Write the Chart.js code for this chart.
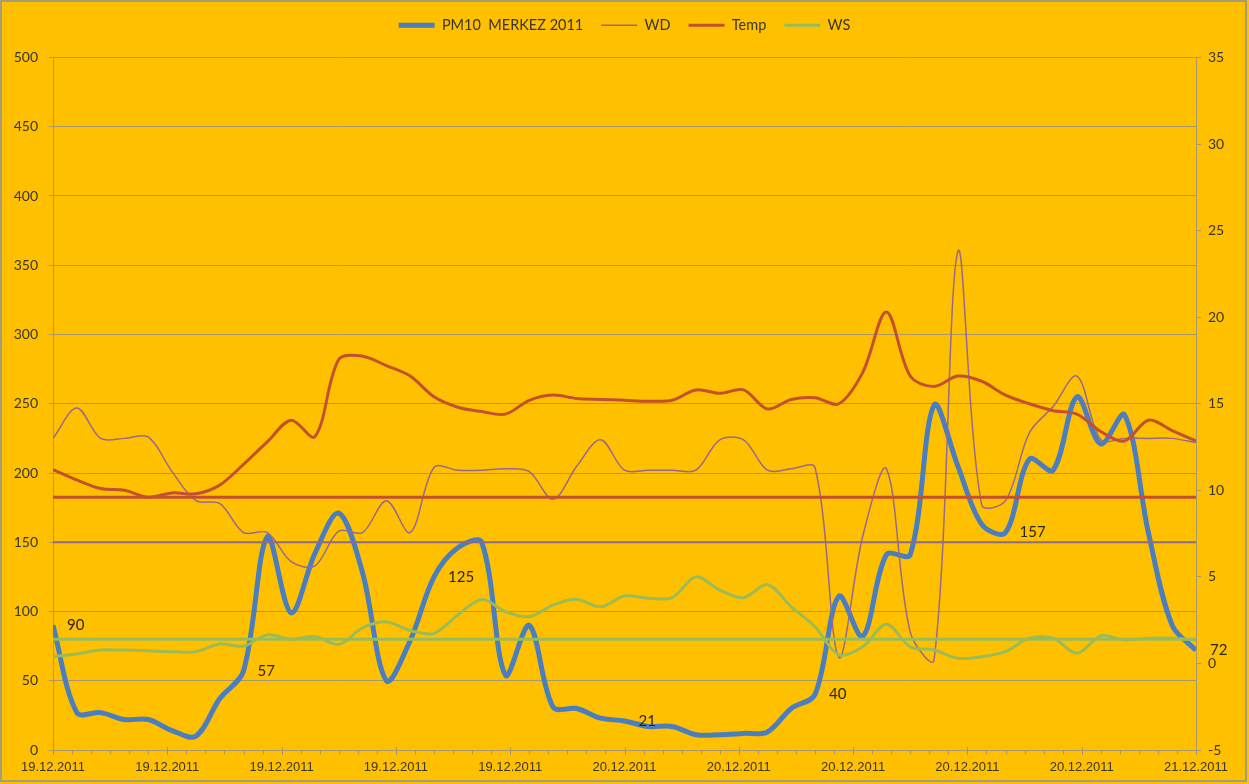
<!DOCTYPE html>
<html>
<head>
<meta charset="utf-8">
<script src="https://cdn.jsdelivr.net/npm/chart.js@4.4.1/dist/chart.umd.min.js"></script>
<style>
  html, body { margin: 0; padding: 0; background: #FFC000; }
  canvas { display: block; }
</style>
</head>
<body>
<canvas id="chart" width="1249" height="784"></canvas>
<script>
// hourly values, 19.12.2011 00:00 -> 21.12.2011 00:00 (49 points)
const pm10 = [90, 27, 27, 22, 22, 14, 10, 37, 57, 154, 99, 142, 171, 128, 50, 79, 125, 146, 150, 54, 90, 31, 30, 23, 21,
  17, 17, 11, 11, 12, 13, 30, 40, 111, 82, 141, 141, 249, 205, 163, 157, 210, 202, 255, 221, 242, 157, 90, 72];
const wd = [225, 247, 225, 225, 226, 201, 180, 178, 157, 157, 136, 133, 158, 157, 180, 157, 204, 202, 202, 203, 201, 181, 205, 224, 202,
  202, 202, 202, 224, 224, 202, 203, 204, 67, 154, 203, 85, 65, 360, 177, 180, 229, 248, 270, 224, 225, 225, 225, 222];
const temp = [11.2, 10.6, 10.1, 10.0, 9.6, 9.85, 9.8, 10.3, 11.5, 12.8, 14.05, 13.1, 17.55, 17.75, 17.2, 16.6, 15.4, 14.8, 14.55, 14.4, 15.2, 15.5, 15.3, 15.25, 15.2,
  15.15, 15.2, 15.8, 15.6, 15.8, 14.7, 15.25, 15.35, 15.0, 16.8, 20.3, 16.6, 16.0, 16.6, 16.3, 15.5, 15.0, 14.6, 14.4, 13.4, 12.85, 14.05, 13.45, 12.85];
const ws = [0.4, 0.55, 0.77, 0.77, 0.73, 0.68, 0.68, 1.12, 1.0, 1.65, 1.4, 1.55, 1.1, 2.05, 2.4, 1.9, 1.74, 2.8, 3.7, 3.0, 2.7, 3.37, 3.7, 3.27, 3.89,
  3.77, 3.8, 5.0, 4.24, 3.8, 4.56, 3.27, 2.12, 0.5, 0.96, 2.27, 0.96, 0.78, 0.3, 0.39, 0.68, 1.46, 1.46, 0.59, 1.59, 1.36, 1.46, 1.46, 1.36];

// flat reference lines
const wdLine = 150;   // left axis
const wsLine = 80;    // left axis
const tempLine = 9.6; // right axis

// x axis: major unit 4.8 h, minor unit 0.8 h
const tickHours = [0, 4.8, 9.6, 14.4, 19.2, 24, 28.8, 33.6, 38.4, 43.2, 48];
const tickLabels = ["19.12.2011", "19.12.2011", "19.12.2011", "19.12.2011", "19.12.2011",
  "20.12.2011", "20.12.2011", "20.12.2011", "20.12.2011", "20.12.2011", "21.12.2011"];
const minorStep = 0.8;

// PM10 points that carry a value label
const labelIdx = [0, 8, 16, 24, 32, 40, 48];

const gridColor = "#a8966e";
const textColor = "#3a352a";

const toPoints = (arr) => arr.map((v, i) => ({ x: i, y: v }));
const flat = (v) => [{ x: 0, y: v }, { x: 48, y: v }];

const frame = {
  id: "frame",
  beforeDraw(chart) {
    const ctx = chart.ctx;
    ctx.save();
    ctx.fillStyle = "#FFC000";
    ctx.fillRect(0, 0, chart.width, chart.height);
    ctx.restore();
  },
  afterDraw(chart) {
    const ctx = chart.ctx;
    ctx.save();
    ctx.strokeStyle = "#8391a6";
    ctx.lineWidth = 1.5;
    ctx.strokeRect(1, 1, 1245, 780);
    ctx.restore();
  },
};

// legend sits higher than the plot area: add a gap under it
const legendGap = {
  id: "legendGap",
  beforeLayout(chart) {
    const lg = chart.legend;
    if (lg && !lg._gapPatched) {
      const fit = lg.fit.bind(lg);
      lg.fit = function () {
        fit();
        this.height += 15;
      };
      lg._gapPatched = true;
    }
  },
};

const xTicks = {
  id: "xTicks",
  afterDraw(chart) {
    const x = chart.scales.x;
    const y0 = chart.chartArea.bottom;
    const ctx = chart.ctx;
    ctx.save();
    ctx.strokeStyle = gridColor;
    ctx.lineWidth = 1;
    const n = Math.round((x.max - x.min) / minorStep);
    for (let i = 0; i <= n; i++) {
      const px = Math.round(x.getPixelForValue(x.min + i * minorStep)) + 0.5;
      const major = i % 6 === 0;
      ctx.beginPath();
      ctx.moveTo(px, major ? y0 - 3 : y0);
      ctx.lineTo(px, major ? y0 + 5 : y0 + 4);
      ctx.stroke();
    }
    ctx.restore();
  },
};

const pmLabels = {
  id: "pmLabels",
  afterDatasetsDraw(chart) {
    const meta = chart.getDatasetMeta(0);
    const ctx = chart.ctx;
    ctx.save();
    ctx.font = "15px Lato";
    ctx.fillStyle = "#2b2616";
    ctx.textAlign = "left";
    ctx.textBaseline = "middle";
    labelIdx.forEach((i) => {
      const pt = meta.data[i];
      ctx.fillText(String(pm10[i]), pt.x + 14, pt.y);
    });
    ctx.restore();
  },
};

const lineSet = (label, data, axis, color, width, order) => ({
  label,
  data,
  yAxisID: axis,
  borderColor: color,
  backgroundColor: color,
  borderWidth: width,
  pointRadius: 0,
  pointHoverRadius: 0,
  tension: 0.33,
  fill: false,
  order,
});

new Chart(document.getElementById("chart"), {
  type: "line",
  data: {
    datasets: [
      lineSet("PM10  MERKEZ 2011", toPoints(pm10), "y", "#4A7EBF", 5, 7),
      lineSet("WD", toPoints(wd), "y", "#98698F", 1.5, 6),
      lineSet("Temp", toPoints(temp), "y1", "#C4502F", 3, 5),
      lineSet("WS", toPoints(ws), "y1", "#9BBB59", 3, 4),
      { ...lineSet("", flat(tempLine), "y1", "#C4502F", 3, 3), tension: 0 },
      { ...lineSet("", flat(wdLine), "y", "#8C6A8C", 2, 2), tension: 0 },
      { ...lineSet("", flat(wsLine), "y", "#9BBB59", 3, 1), tension: 0 },
    ],
  },
  options: {
    responsive: false,
    animation: false,
    parsing: false,
    layout: { padding: 0 },
    plugins: {
      legend: {
        position: "top",
        labels: {
          usePointStyle: true,
          pointStyle: "line",
          pointStyleWidth: 36,
          padding: 18,
          color: textColor,
          font: { family: "Lato", size: 14.5 },
          filter: (item) => item.datasetIndex < 4,
          sort: (a, b) => a.datasetIndex - b.datasetIndex,
        },
      },
      tooltip: { enabled: false },
    },
    scales: {
      x: {
        type: "linear",
        min: 0,
        max: 48,
        grid: { display: false, drawTicks: false },
        border: { display: true, color: gridColor, width: 1 },
        ticks: {
          autoSkip: false,
          maxRotation: 0,
          padding: 10,
          color: textColor,
          font: { family: "Liberation Sans", size: 13 },
          callback: (value, index) => tickLabels[index],
        },
        afterBuildTicks: (scale) => {
          scale.ticks = tickHours.map((v) => ({ value: v }));
        },
        afterFit: (scale) => {
          scale.height = 34;
        },
      },
      y: {
        position: "left",
        min: 0,
        max: 500,
        grid: { color: gridColor, tickLength: 4 },
        border: { color: gridColor },
        ticks: {
          stepSize: 50,
          padding: 11,
          color: textColor,
          font: { family: "Lato", size: 14 },
        },
        afterFit: (scale) => {
          scale.width = 53;
        },
      },
      y1: {
        position: "right",
        min: -5,
        max: 35,
        grid: { drawOnChartArea: false, color: gridColor, tickLength: 5 },
        border: { color: gridColor },
        ticks: {
          stepSize: 5,
          padding: 7,
          color: textColor,
          font: { family: "Lato", size: 14 },
        },
        afterFit: (scale) => {
          scale.width = 53;
        },
      },
    },
  },
  plugins: [frame, legendGap, xTicks, pmLabels],
});
</script>
</body>
</html>
